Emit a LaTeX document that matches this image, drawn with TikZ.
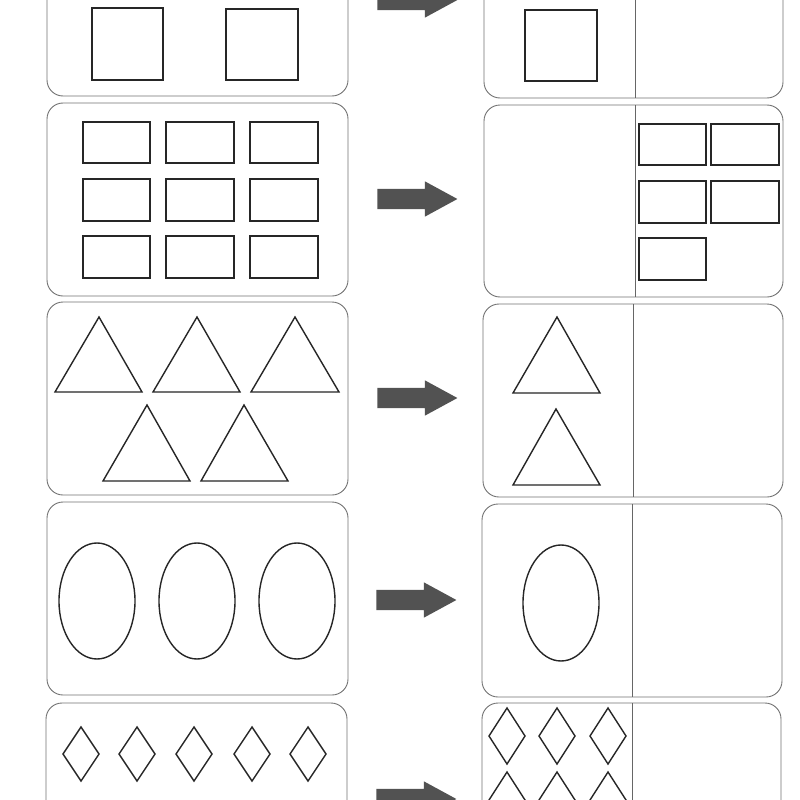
\documentclass[tikz,border=0pt]{standalone}
\usetikzlibrary{shapes.arrows}
\tikzset{
  panel/.style={draw=black!55, line width=0.9pt, rounded corners=16pt},
  divider/.style={draw=black!60, line width=0.9pt},
  figline/.style={draw=black!85, line width=1.4pt, line join=miter},
  blockarrow/.style={single arrow, fill=black!68, draw=none, minimum height=80pt,
    inner sep=10pt, single arrow head extend=7.5pt, single arrow tip angle=57}
}
\begin{document}
\begin{tikzpicture}[x=1pt, y=-1pt]
  \useasboundingbox (0,0) rectangle (800,800);
  \fill[white] (0,0) rectangle (800,800);

  % left panels
  \draw[panel] (47,-97) rectangle (348,96);
  \draw[panel] (47,103) rectangle (348,296);
  \draw[panel] (47,302) rectangle (348,495);
  \draw[panel] (47,502) rectangle (348,695);
  \draw[panel] (46,703) rectangle (347,896);

  % right panels, split in two
  \draw[panel] (484,-95) rectangle (783,98);
  \draw[panel] (484,105) rectangle (783,297);
  \draw[panel] (483,304) rectangle (783,497);
  \draw[panel] (482,504) rectangle (782,697);
  \draw[panel] (482,703) rectangle (781,896);
  \draw[divider] (635,-95) -- (635,98);
  \draw[divider] (635,105) -- (635,297);
  \draw[divider] (633,304) -- (633,497);
  \draw[divider] (632,504) -- (632,697);
  \draw[divider] (632,703) -- (632,896);

  % arrows
  \node[blockarrow] at (408,0)   (arrsq) {};
  \node[blockarrow] at (408,199) (arrrect) {};
  \node[blockarrow] at (408,398) (arrtri) {};
  \node[blockarrow] at (407,600) (arrell) {};
  \node[blockarrow] at (407,799) (arrdia) {};

  % squares
  \draw[figline] (92,8) rectangle (163,80);
  \draw[figline] (226,9) rectangle (298,80);
  \draw[figline] (525,10) rectangle (597,81);

  % rectangles
  \draw[figline] (83,122) rectangle (150,163);
  \draw[figline] (166,122) rectangle (234,163);
  \draw[figline] (250,122) rectangle (318,163);
  \draw[figline] (83,179) rectangle (150,221);
  \draw[figline] (166,179) rectangle (234,221);
  \draw[figline] (250,179) rectangle (318,221);
  \draw[figline] (83,236) rectangle (150,278);
  \draw[figline] (166,236) rectangle (234,278);
  \draw[figline] (250,236) rectangle (318,278);
  \draw[figline] (639,124) rectangle (706,165);
  \draw[figline] (711,124) rectangle (779,165);
  \draw[figline] (639,181) rectangle (706,223);
  \draw[figline] (711,181) rectangle (779,223);
  \draw[figline] (639,238) rectangle (706,280);

  % triangles
  \draw[figline] (55,392) -- (99,317) -- (142,392) -- cycle;
  \draw[figline] (153,392) -- (197,317) -- (240,392) -- cycle;
  \draw[figline] (251,392) -- (295,317) -- (339,392) -- cycle;
  \draw[figline] (103,481) -- (147,405) -- (190,481) -- cycle;
  \draw[figline] (201,481) -- (244,405) -- (288,481) -- cycle;
  \draw[figline] (513,393) -- (557,317) -- (600,393) -- cycle;
  \draw[figline] (513,485) -- (556,409) -- (600,485) -- cycle;

  % ellipses
  \draw[figline] (97,601) ellipse [x radius=38, y radius=58];
  \draw[figline] (197,601) ellipse [x radius=38, y radius=58];
  \draw[figline] (297,601) ellipse [x radius=38, y radius=58];
  \draw[figline] (561,603) ellipse [x radius=38, y radius=58];

  % diamonds
  \draw[figline] (81,727) -- ++(18,27) -- ++(-18,27) -- ++(-18,-27) -- cycle;
  \draw[figline] (137,727) -- ++(18,27) -- ++(-18,27) -- ++(-18,-27) -- cycle;
  \draw[figline] (194,727) -- ++(18,27) -- ++(-18,27) -- ++(-18,-27) -- cycle;
  \draw[figline] (252,727) -- ++(18,27) -- ++(-18,27) -- ++(-18,-27) -- cycle;
  \draw[figline] (308,727) -- ++(18,27) -- ++(-18,27) -- ++(-18,-27) -- cycle;
  \draw[figline] (507,708) -- ++(18,28) -- ++(-18,28) -- ++(-18,-28) -- cycle;
  \draw[figline] (557,708) -- ++(18,28) -- ++(-18,28) -- ++(-18,-28) -- cycle;
  \draw[figline] (608,708) -- ++(18,28) -- ++(-18,28) -- ++(-18,-28) -- cycle;
  \draw[figline] (507,772) -- ++(18,28) -- ++(-18,28) -- ++(-18,-28) -- cycle;
  \draw[figline] (557,772) -- ++(18,28) -- ++(-18,28) -- ++(-18,-28) -- cycle;
  \draw[figline] (608,772) -- ++(18,28) -- ++(-18,28) -- ++(-18,-28) -- cycle;
\end{tikzpicture}
\end{document}
